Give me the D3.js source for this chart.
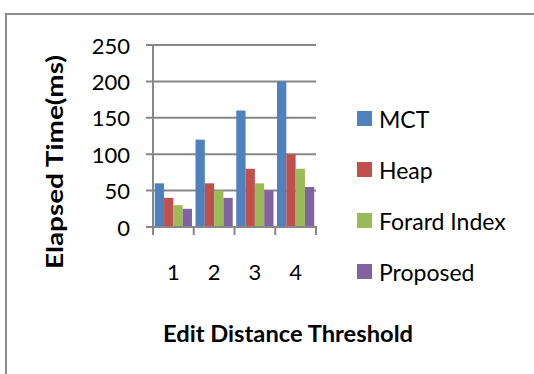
<!DOCTYPE html>
<html>
<head>
<meta charset="utf-8">
<script src="https://cdn.jsdelivr.net/npm/d3@7"></script>
<style>
  html, body { margin: 0; padding: 0; background: #fff; }
  svg { display: block; }
  text { font-family: Lato, "Open Sans", sans-serif; fill: #000; }
</style>
</head>
<body>
<svg id="chart" width="534" height="374"></svg>
<script>
// Edit distance thresholds on the x axis
const categories = ["1", "2", "3", "4"];
// Elapsed time (ms) per method
const seriesNames = ["MCT", "Heap", "Forard Index", "Proposed"];
const mct      = [60, 120, 160, 200];
const heap     = [40, 60, 80, 100];
const forward  = [30, 50, 60, 80];
const proposed = [25, 40, 50, 55];
const yTicks = [0, 50, 100, 150, 200, 250];
const colors = ["#4F81BD", "#C0504D", "#9BBB59", "#8064A2"];

const seriesValues = [mct, heap, forward, proposed];

const svg = d3.select("#chart");
const W = 534, H = 374;

// outer frame (only top and left edges fall inside the view)
svg.append("rect")
  .attr("x", 6).attr("y", 14)
  .attr("width", W + 10).attr("height", H + 10)
  .attr("fill", "none").attr("stroke", "#8c8c8c").attr("stroke-width", 2);

const plot = { left: 153, right: 316, top: 45, bottom: 227 };

const x = d3.scaleBand().domain(categories).range([plot.left, plot.right]).paddingInner(0).paddingOuter(0);
const xInner = d3.scaleBand().domain(seriesNames).range([0, x.bandwidth()]).paddingOuter(0.19).paddingInner(0);
const y = d3.scaleLinear().domain([0, 250]).range([plot.bottom, plot.top]);

const gridColor = "#878787";

// horizontal gridlines with outside tick marks
svg.append("g").selectAll("line").data(yTicks).join("line")
  .attr("x1", plot.left - 7).attr("x2", plot.right)
  .attr("y1", d => y(d)).attr("y2", d => y(d))
  .attr("stroke", gridColor).attr("stroke-width", 2);

// bars
const groups = svg.append("g").selectAll("g").data(categories).join("g")
  .attr("transform", d => `translate(${x(d)},0)`);
groups.selectAll("rect")
  .data((c, i) => seriesNames.map((s, k) => ({ s, k, v: seriesValues[k][i] })))
  .join("rect")
  .attr("x", d => xInner(d.s))
  .attr("width", xInner.bandwidth())
  .attr("y", d => y(d.v))
  .attr("height", d => y(0) - y(d.v))
  .attr("fill", d => colors[d.k]);

// value axis line
svg.append("line")
  .attr("x1", plot.left).attr("x2", plot.left)
  .attr("y1", plot.top).attr("y2", plot.bottom + 8)
  .attr("stroke", gridColor).attr("stroke-width", 2);

// category axis line and tick marks between categories
svg.append("line")
  .attr("x1", plot.left - 7).attr("x2", plot.right + 1)
  .attr("y1", plot.bottom).attr("y2", plot.bottom)
  .attr("stroke", gridColor).attr("stroke-width", 2);
const boundaries = categories.map(c => x(c)).concat([x(categories[categories.length - 1]) + x.bandwidth()]);
svg.append("g").selectAll("line").data(boundaries).join("line")
  .attr("x1", d => d).attr("x2", d => d)
  .attr("y1", plot.bottom).attr("y2", plot.bottom + 8)
  .attr("stroke", gridColor).attr("stroke-width", 2);

// y tick labels
svg.append("g").selectAll("text").data(yTicks).join("text")
  .attr("x", 130).attr("y", d => y(d))
  .attr("text-anchor", "end").attr("dominant-baseline", "central")
  .style("font-size", "22px")
  .text(d => d);

// x tick labels
svg.append("g").selectAll("text").data(categories).join("text")
  .attr("x", d => x(d) + x.bandwidth() / 2).attr("y", 280)
  .attr("text-anchor", "middle")
  .style("font-size", "22px")
  .text(d => d);

// axis titles
svg.append("text")
  .attr("x", 288).attr("y", 342)
  .attr("text-anchor", "middle")
  .style("font-size", "23.5px").style("font-weight", "bold")
  .attr("textLength", 250).attr("lengthAdjust", "spacingAndGlyphs")
  .text("Edit Distance Threshold");

svg.append("text")
  .attr("transform", "translate(63,162) rotate(-90)")
  .attr("text-anchor", "middle")
  .style("font-size", "23px").style("font-weight", "bold")
  .attr("textLength", 214).attr("lengthAdjust", "spacingAndGlyphs")
  .text("Elapsed Time(ms)");

// legend
const legend = svg.append("g").selectAll("g").data(seriesNames).join("g")
  .attr("transform", (d, i) => `translate(357,${111 + i * 51})`);
legend.append("rect").attr("width", 15).attr("height", 15).attr("fill", (d, i) => colors[i]);
legend.append("text")
  .attr("x", 22).attr("y", 8).attr("dominant-baseline", "central")
  .style("font-size", "23px")
  .text(d => d);
</script>
</body>
</html>
